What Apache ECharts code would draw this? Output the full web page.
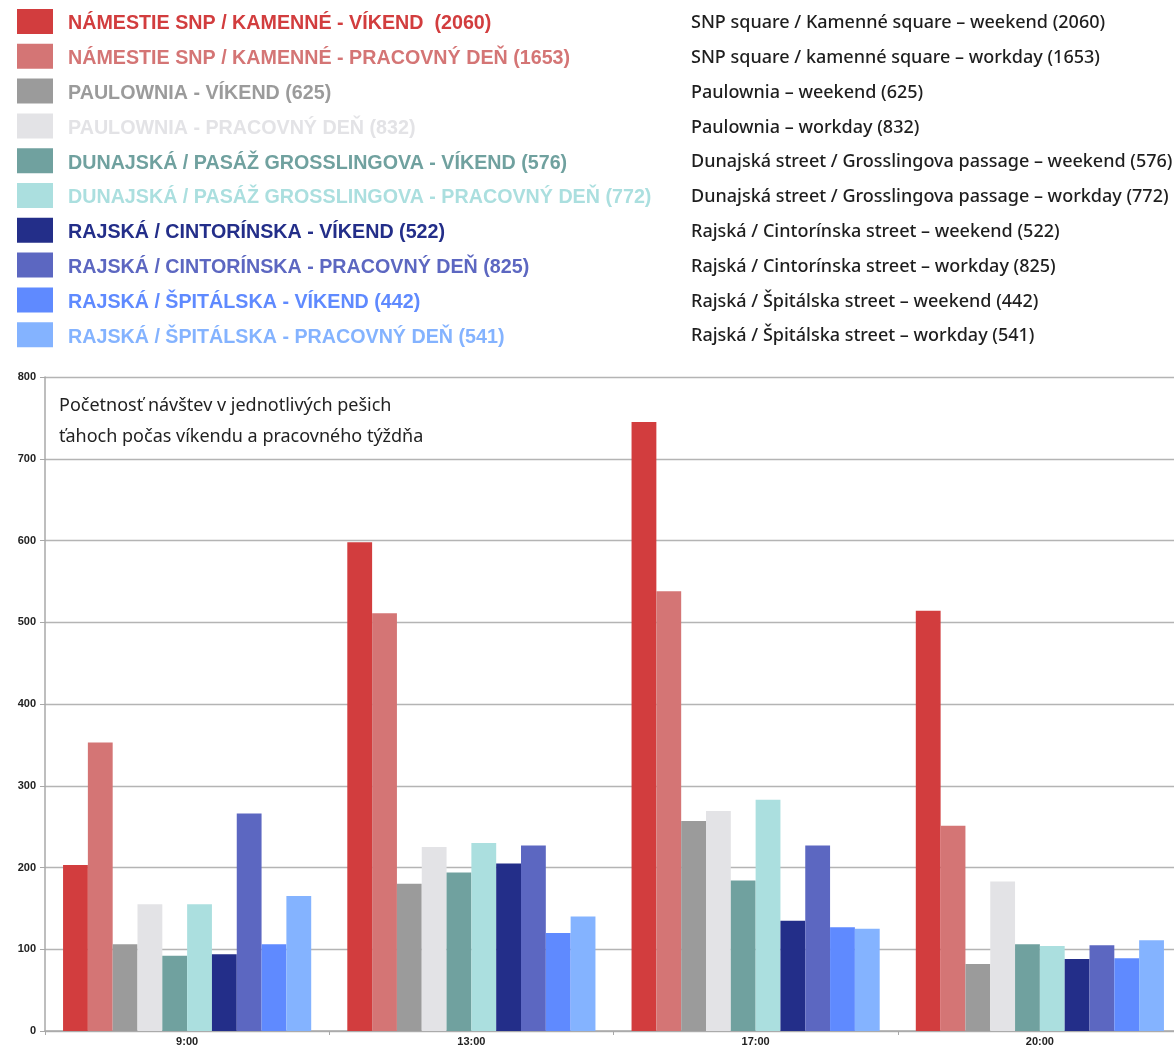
<!DOCTYPE html>
<html>
<head>
<meta charset="utf-8">
<script src="https://cdn.jsdelivr.net/npm/echarts@6/dist/echarts.min.js"></script>
<style>
  html, body { margin: 0; padding: 0; background: #fff; overflow: hidden; }
  /* the plot area runs slightly past the right edge of the window */
  #chart { width: 1182px; height: 1048px; }
</style>
</head>
<body>
<div id="chart"></div>
<script>
// Time slots on the x axis
const categories = ['9:00', '13:00', '17:00', '20:00'];

// Series names (Slovak) and their English captions
const seriesNames = [
  'NÁMESTIE SNP / KAMENNÉ - VÍKEND  (2060)',
  'NÁMESTIE SNP / KAMENNÉ - PRACOVNÝ DEŇ (1653)',
  'PAULOWNIA - VÍKEND (625)',
  'PAULOWNIA - PRACOVNÝ DEŇ (832)',
  'DUNAJSKÁ / PASÁŽ GROSSLINGOVA - VÍKEND (576)',
  'DUNAJSKÁ / PASÁŽ GROSSLINGOVA - PRACOVNÝ DEŇ (772)',
  'RAJSKÁ / CINTORÍNSKA - VÍKEND (522)',
  'RAJSKÁ / CINTORÍNSKA - PRACOVNÝ DEŇ (825)',
  'RAJSKÁ / ŠPITÁLSKA - VÍKEND (442)',
  'RAJSKÁ / ŠPITÁLSKA - PRACOVNÝ DEŇ (541)'
];
const englishNames = [
  'SNP square / Kamenné square – weekend (2060)',
  'SNP square / kamenné square – workday (1653)',
  'Paulownia – weekend (625)',
  'Paulownia – workday (832)',
  'Dunajská street / Grosslingova passage – weekend (576)',
  'Dunajská street / Grosslingova passage – workday (772)',
  'Rajská / Cintorínska street – weekend (522)',
  'Rajská / Cintorínska street – workday (825)',
  'Rajská / Špitálska street – weekend (442)',
  'Rajská / Špitálska street – workday (541)'
];

// Visit counts per time slot
const snpWeekend       = [203, 598, 745, 514];
const snpWorkday       = [353, 511, 538, 251];
const paulowniaWeekend = [106, 180, 257, 82];
const paulowniaWorkday = [155, 225, 269, 183];
const dunajskaWeekend  = [92, 194, 184, 106];
const dunajskaWorkday  = [155, 230, 283, 104];
const cintorinskaWeekend = [94, 205, 135, 88];
const cintorinskaWorkday = [266, 227, 227, 105];
const spitalskaWeekend = [106, 120, 127, 89];
const spitalskaWorkday = [165, 140, 125, 111];

const seriesValues = [
  snpWeekend, snpWorkday, paulowniaWeekend, paulowniaWorkday,
  dunajskaWeekend, dunajskaWorkday, cintorinskaWeekend, cintorinskaWorkday,
  spitalskaWeekend, spitalskaWorkday
];

const yTicks = [0, 100, 200, 300, 400, 500, 600, 700, 800];

const colors = [
  '#d23d3e', '#d47575', '#9b9b9b', '#e3e3e6', '#70a19f',
  '#abdfdf', '#232e89', '#5c67c1', '#5f8aff', '#84b3ff'
];

const chart = echarts.init(document.getElementById('chart'), null, { renderer: 'canvas' });

const englishOf = {};
seriesNames.forEach((n, i) => { englishOf[n] = englishNames[i]; });

const option = {
  animation: false,
  backgroundColor: '#ffffff',
  color: colors,
  title: {
    text: 'Početnosť návštev v jednotlivých pešich\nťahoch počas víkendu a pracovného týždňa',
    left: 59,
    top: 390,
    padding: 0,
    textStyle: {
      fontFamily: 'Noto Sans',
      fontSize: 18,
      fontWeight: 'normal',
      color: '#222222',
      lineHeight: 31
    }
  },
  legend: [
    {
      orient: 'vertical',
      left: 17,
      top: 9,
      padding: 0,
      itemWidth: 36,
      itemHeight: 25,
      itemGap: 9.8,
      icon: 'rect',
      selectedMode: false,
      formatter: name => '{g|}' + name,
      textStyle: {
        fontFamily: 'Liberation Sans',
        fontSize: 19.7,
        fontWeight: 'bold',
        padding: [5, 0, 0, 0],
        rich: { g: { width: 10 } }
      },
      data: seriesNames.map((n, i) => ({ name: n, textStyle: { color: colors[i] } }))
    },
    {
      orient: 'vertical',
      left: 686,
      top: 10.5,
      padding: 0,
      itemWidth: 0,
      itemHeight: 25,
      itemGap: 9.8,
      icon: 'rect',
      selectedMode: false,
      itemStyle: { opacity: 0 },
      formatter: name => englishOf[name],
      textStyle: {
        fontFamily: 'Noto Sans',
        fontSize: 18,
        fontWeight: 500,
        color: '#1e1e1e'
      },
      data: seriesNames
    }
  ],
  grid: {
    left: 45,
    top: 377,
    right: 0,
    bottom: 17,
    containLabel: false
  },
  xAxis: {
    type: 'category',
    data: categories,
    axisLine: { lineStyle: { color: '#a8a8a8', width: 1.5 } },
    axisTick: { show: true, length: 4, lineStyle: { color: '#a8a8a8' } },
    axisLabel: {
      fontFamily: 'Liberation Sans',
      fontSize: 11,
      fontWeight: 'bold',
      color: '#222',
      margin: 5
    }
  },
  yAxis: {
    type: 'value',
    min: 0,
    max: 800,
    interval: 100,
    axisLine: { show: true, lineStyle: { color: '#a8a8a8', width: 1.5 } },
    axisTick: { show: true, length: 5, lineStyle: { color: '#a8a8a8' } },
    axisLabel: {
      fontFamily: 'Liberation Sans',
      fontSize: 11,
      fontWeight: 'bold',
      color: '#222',
      margin: 9,
      formatter: v => (yTicks.indexOf(v) >= 0 ? String(v) : '')
    },
    splitLine: { show: true, lineStyle: { color: '#b4b4b4', width: 1.3 } }
  },
  series: seriesNames.map((n, i) => ({
    name: n,
    type: 'bar',
    data: seriesValues[i],
    barGap: '0%',
    barCategoryGap: '12.7%',
    itemStyle: { color: colors[i] }
  }))
};

chart.setOption(option);
</script>
</body>
</html>
